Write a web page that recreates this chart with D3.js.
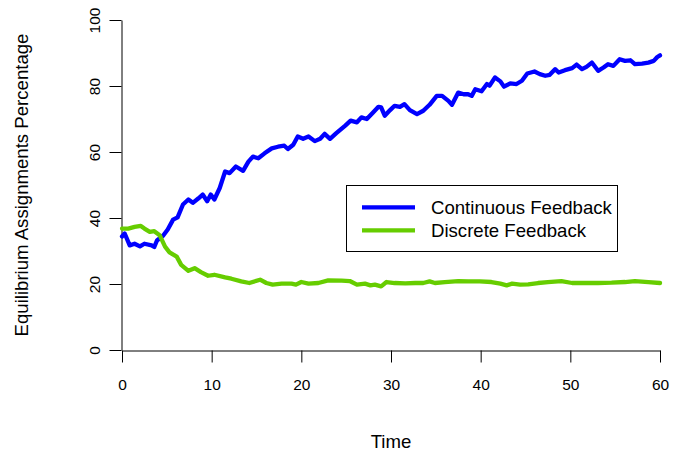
<!DOCTYPE html>
<html>
<head>
<meta charset="utf-8">
<script src="https://cdn.jsdelivr.net/npm/d3@7"></script>
<style>
  body { margin: 0; background: #fff; }
  svg text { font-family: "Liberation Sans", Arial, sans-serif; fill: #000; }
</style>
</head>
<body>
<svg id="chart" width="673" height="457"></svg>
<script>
// Values (time, percentage)
const continuousTime = [0, 0.3, 0.86, 1.4, 2.0, 2.5, 3.3, 3.6, 3.9, 4.6, 5.1, 5.7, 6.2, 6.8, 7.4, 7.9, 8.5, 9.0, 9.5, 9.9,
  10.3, 10.9, 11.5, 12.0, 12.7, 13.5, 14.1, 14.6, 15.2, 15.9, 16.7, 17.4, 18.1, 18.5, 19.1, 19.6, 20.2, 20.8, 21.5, 22.1,
  22.6, 23.2, 23.9, 24.9, 25.5, 26.2, 26.7, 27.3, 28.0, 28.6, 28.9, 29.3, 29.9, 30.4, 31.0, 31.5, 32.1, 32.9, 33.6, 34.3,
  35.1, 35.7, 36.4, 36.8, 37.5, 38.1, 38.6, 39.0, 39.4, 40.1, 40.7, 41.0, 41.6, 42.2, 42.6, 43.3, 44.0, 44.6, 45.2, 46.0,
  46.6, 47.2, 47.7, 48.3, 48.7, 49.4, 50.2, 50.7, 51.3, 51.8, 52.4, 53.1, 53.7, 54.2, 54.8, 55.5, 56.1, 56.7, 57.2, 58.0,
  58.7, 59.3, 59.7, 60];
const continuousValue = [34.4, 35.3, 31.7, 32.2, 31.4, 32.2, 31.7, 31.2, 33.2, 34.7, 36.5, 39.5, 40.2, 44.1, 45.6, 44.6, 45.9, 47.1, 45.1, 47.1,
  45.6, 49.1, 54.1, 53.6, 55.6, 54.3, 57.1, 58.6, 58.1, 59.6, 61.1, 61.6, 61.9, 60.9, 62.2, 64.7, 64.0, 64.7, 63.3, 64.0,
  65.5, 64.0, 65.7, 68.0, 69.5, 69.0, 70.5, 70.0, 72.0, 73.7, 73.5, 71.0, 72.7, 74.0, 73.7, 74.5, 72.7, 71.5, 72.5, 74.3,
  77.0, 77.0, 75.5, 74.3, 78.0, 77.5, 77.5, 77.0, 79.0, 78.4, 80.6, 80.1, 82.6, 81.4, 79.8, 80.8, 80.6, 81.6, 83.8, 84.4,
  83.6, 83.1, 83.4, 85.1, 84.1, 84.8, 85.4, 86.5, 85.1, 85.8, 87.1, 84.6, 85.6, 86.6, 86.1, 88.1, 87.6, 87.8, 86.6, 86.8,
  87.1, 87.6, 88.8, 89.3];

const discreteTime = [0, 0.7, 1.4, 2.1, 2.5, 3.1, 3.6, 4.2, 4.8, 5.3, 6.1, 6.6, 7.4, 8.1, 8.8, 9.6, 10.3, 11.5, 12.2, 13.3,
  14.2, 15.4, 16.1, 16.8, 17.8, 18.9, 19.4, 20.0, 20.8, 21.9, 23.0, 24.5, 25.4, 26.2, 27.1, 27.7, 28.2, 28.9, 29.5, 30.4,
  31.6, 32.7, 33.6, 34.3, 34.9, 36.0, 37.5, 38.6, 39.9, 41.2, 42.2, 42.9, 43.5, 44.4, 45.3, 46.4, 47.5, 49.0, 50.2, 51.6,
  53.1, 54.6, 56.1, 57.2, 58.7, 60];
const discreteValue = [36.8, 36.8, 37.3, 37.6, 36.8, 35.8, 36.0, 34.8, 31.3, 29.6, 28.3, 25.8, 24.0, 24.8, 23.6, 22.5, 22.8, 22.0, 21.6, 20.8,
  20.3, 21.3, 20.3, 19.8, 20.1, 20.1, 19.8, 20.6, 20.1, 20.3, 21.1, 21.0, 20.9, 19.8, 20.1, 19.6, 19.8, 19.3, 20.6, 20.3,
  20.2, 20.3, 20.3, 20.8, 20.3, 20.6, 20.9, 20.8, 20.8, 20.6, 20.1, 19.6, 20.1, 19.8, 19.9, 20.3, 20.6, 20.9, 20.3, 20.3,
  20.3, 20.4, 20.6, 20.9, 20.6, 20.3];

const seriesNames = ['Continuous Feedback', 'Discrete Feedback'];
const seriesColors = ['#0000ff', '#66cd00'];
const xTicks = [0, 10, 20, 30, 40, 50, 60];
const yTicks = [0, 20, 40, 60, 80, 100];

let svg = d3.select('#chart');

let x = d3.scaleLinear().domain([0, 60]).range([122, 660]);
let y = d3.scaleLinear().domain([0, 100]).range([350, 20]);

// x axis
let xAxis = svg.append('g')
  .attr('transform', 'translate(0,350.5)')
  .call(d3.axisBottom(x).tickValues(xTicks).tickSize(12).tickSizeOuter(0));
xAxis.selectAll('text').attr('font-size', 15.5).attr('dy', 0).attr('y', 39);

// y axis, labels rotated like base R
let yAxis = svg.append('g')
  .attr('transform', 'translate(121.5,0)')
  .call(d3.axisLeft(y).tickValues(yTicks).tickSize(12).tickSizeOuter(0));
yAxis.selectAll('text')
  .attr('font-size', 15.5)
  .attr('transform', 'rotate(-90)')
  .attr('x', 0).attr('y', -21.5).attr('dy', 0)
  .attr('text-anchor', 'middle');
svg.selectAll('.domain, .tick line').attr('stroke', '#000');

// axis titles (larger than the tick labels)
svg.append('text')
  .attr('x', (122 + 660) / 2).attr('y', 448)
  .attr('text-anchor', 'middle').attr('font-size', 18.6)
  .text('Time');
svg.append('text')
  .attr('transform', `translate(28,${(350 + 20) / 2}) rotate(-90)`)
  .attr('text-anchor', 'middle').attr('font-size', 18.6)
  .text('Equilibrium Assignments Percentage');

// lines
let line = d3.line().x(d => x(d[0])).y(d => y(d[1]));
let seriesData = [
  d3.zip(continuousTime, continuousValue),
  d3.zip(discreteTime, discreteValue)
];
seriesData.forEach((pts, i) => {
  svg.append('path')
    .datum(pts)
    .attr('d', line)
    .attr('fill', 'none')
    .attr('stroke', seriesColors[i])
    .attr('stroke-width', 4.3)
    .attr('stroke-linejoin', 'round')
    .attr('stroke-linecap', 'round');
});

// legend
let legend = svg.append('g');
legend.append('rect')
  .attr('x', 346.5).attr('y', 185.5).attr('width', 271).attr('height', 66)
  .attr('fill', '#fff').attr('stroke', '#000');
seriesNames.forEach((name, i) => {
  let ly = 207.3 + i * 23;
  legend.append('line')
    .attr('x1', 362).attr('x2', 415).attr('y1', ly).attr('y2', ly)
    .attr('stroke', seriesColors[i]).attr('stroke-width', 4.3);
  legend.append('text')
    .attr('x', 431).attr('y', ly + 6.4)
    .attr('font-size', 18.6)
    .text(name);
});
</script>
</body>
</html>
